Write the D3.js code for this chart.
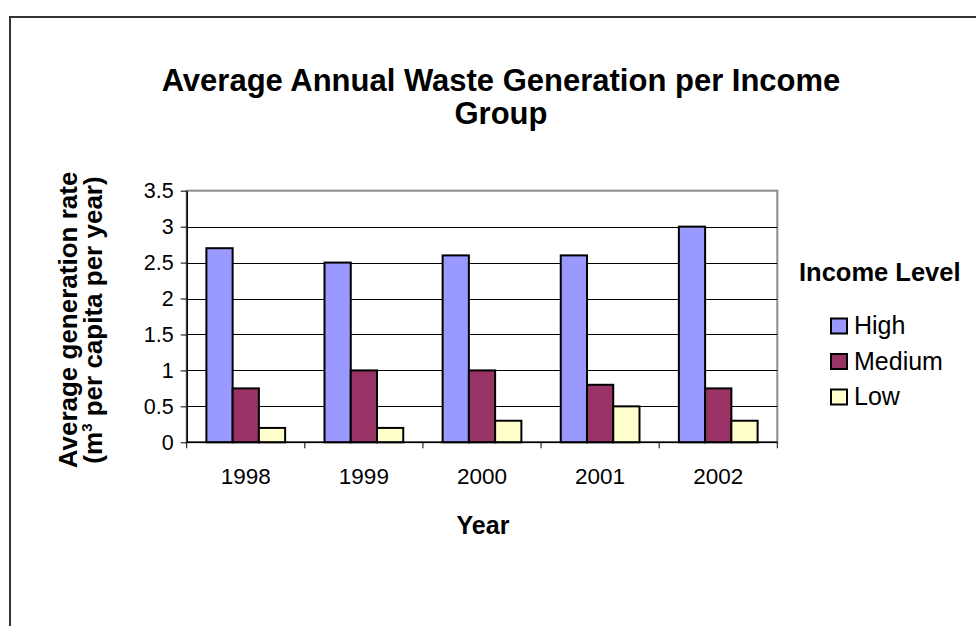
<!DOCTYPE html>
<html>
<head>
<meta charset="utf-8">
<script src="https://cdn.jsdelivr.net/npm/d3@7"></script>
<style>
  html, body { margin: 0; padding: 0; background: #fff; }
  svg { display: block; font-family: Arial, "Liberation Sans", sans-serif; }
</style>
</head>
<body>
<svg id="chart" width="976" height="626"></svg>
<script>
// Waste generation per income group, 1998-2002
const years = ["1998", "1999", "2000", "2001", "2002"];
const seriesNames = ["High", "Medium", "Low"];
const highValues = [2.7, 2.5, 2.6, 2.6, 3.0];
const mediumValues = [0.75, 1.0, 1.0, 0.8, 0.75];
const lowValues = [0.2, 0.2, 0.3, 0.5, 0.3];
const yTicks = [0, 0.5, 1, 1.5, 2, 2.5, 3, 3.5];
const seriesColors = ["#9999FF", "#993366", "#FFFFCC"];

const seriesValues = [highValues, mediumValues, lowValues];

const svg = d3.select("#chart");

// outer chart frame
svg.append("rect")
  .attr("x", 10).attr("y", 17)
  .attr("width", 1000).attr("height", 700)
  .attr("fill", "#fff")
  .attr("stroke", "#333").attr("stroke-width", 2);

const plot = { left: 186.7, right: 777.3, top: 190.7, bottom: 442.3 };

const x = d3.scaleBand().domain(years).range([plot.left, plot.right]).padding(0);
const xInner = d3.scaleBand().domain(seriesNames)
  .range([0, x.bandwidth()]).paddingInner(0).paddingOuter(0.75);
const y = d3.scaleLinear().domain([0, 3.5]).range([plot.bottom, plot.top]);

// plot area border (grey)
svg.append("rect")
  .attr("x", plot.left).attr("y", plot.top)
  .attr("width", plot.right - plot.left).attr("height", plot.bottom - plot.top)
  .attr("fill", "#fff").attr("stroke", "#8c8c8c").attr("stroke-width", 2);

// horizontal gridlines
svg.append("g")
  .selectAll("line")
  .data(yTicks.filter(t => t > 0 && t < 3.5))
  .join("line")
  .attr("x1", plot.left).attr("x2", plot.right)
  .attr("y1", d => Math.round(y(d)) + 0.5).attr("y2", d => Math.round(y(d)) + 0.5)
  .attr("stroke", "#000").attr("stroke-width", 1);

// bars
const groups = svg.append("g")
  .selectAll("g")
  .data(years)
  .join("g")
  .attr("transform", d => `translate(${x(d)},0)`);

groups.selectAll("rect")
  .data((d, i) => seriesNames.map((s, j) => ({ s, v: seriesValues[j][i], c: seriesColors[j] })))
  .join("rect")
  .attr("x", d => xInner(d.s))
  .attr("y", d => y(d.v))
  .attr("width", xInner.bandwidth())
  .attr("height", d => y(0) - y(d.v))
  .attr("fill", d => d.c)
  .attr("stroke", "#000").attr("stroke-width", 2);

// y axis
const yAxis = d3.axisLeft(y).tickValues(yTicks).tickSize(6).tickSizeOuter(0)
  .tickFormat(d => String(d));
const yG = svg.append("g").attr("transform", `translate(${plot.left},0)`).call(yAxis);
yG.select(".domain").attr("stroke", "#000").attr("stroke-width", 1.5);
yG.selectAll(".tick line").attr("stroke", "#000");
yG.selectAll(".tick text")
  .attr("x", -13)
  .attr("font-size", 21.5).attr("font-family", "Arial, 'Liberation Sans', sans-serif")
  .attr("fill", "#000");

// x axis with ticks at category boundaries
const xAxisG = svg.append("g").attr("transform", `translate(0,${plot.bottom})`);
xAxisG.append("line")
  .attr("x1", plot.left).attr("x2", plot.right)
  .attr("stroke", "#000").attr("stroke-width", 1.5);
const boundaries = years.map(d => x(d)).concat([x(years[years.length - 1]) + x.bandwidth()]);
xAxisG.selectAll("line.tk")
  .data(boundaries)
  .join("line")
  .attr("class", "tk")
  .attr("x1", d => d).attr("x2", d => d)
  .attr("y1", 0).attr("y2", 6)
  .attr("stroke", "#000");
xAxisG.selectAll("text")
  .data(years)
  .join("text")
  .attr("x", d => x(d) + x.bandwidth() / 2)
  .attr("y", 41.5)
  .attr("text-anchor", "middle")
  .attr("font-size", 22.5)
  .text(d => d);

// title
const title = svg.append("text")
  .attr("text-anchor", "middle")
  .attr("font-size", 31).attr("font-weight", "bold");
title.append("tspan").attr("x", 501).attr("y", 91)
  .text("Average Annual Waste Generation per Income");
title.append("tspan").attr("x", 501).attr("y", 124).text("Group");

// y axis title
const yTitle = svg.append("g").attr("transform", "translate(77,320) rotate(-90)");
yTitle.append("text")
  .attr("text-anchor", "middle")
  .attr("font-size", 26).attr("font-weight", "bold")
  .text("Average generation rate");
const yTitle2 = yTitle.append("text")
  .attr("y", 25)
  .attr("text-anchor", "middle")
  .attr("font-size", 26).attr("font-weight", "bold");
yTitle2.append("tspan").text("(m");
yTitle2.append("tspan").attr("font-size", 15).attr("dy", -10).text("3");
yTitle2.append("tspan").attr("dy", 10).text(" per capita per year)");

// x axis title
svg.append("text")
  .attr("x", x.range()[0] + (x.range()[1] - x.range()[0]) / 2 + 1)
  .attr("y", 534)
  .attr("text-anchor", "middle")
  .attr("font-size", 25).attr("font-weight", "bold")
  .text("Year");

// legend
const legend = svg.append("g");
legend.append("text")
  .attr("x", 799).attr("y", 280.7)
  .attr("font-size", 25.5).attr("font-weight", "bold")
  .text("Income Level");
const items = legend.selectAll("g.item")
  .data(seriesNames)
  .join("g")
  .attr("class", "item")
  .attr("transform", (d, i) => `translate(0,${318.5 + i * 35.5})`);
items.append("rect")
  .attr("x", 831).attr("y", 0)
  .attr("width", 16).attr("height", 15)
  .attr("fill", (d, i) => seriesColors[i])
  .attr("stroke", "#000").attr("stroke-width", 2);
items.append("text")
  .attr("x", 854).attr("y", 15.5)
  .attr("font-size", 25)
  .text(d => d);
</script>
</body>
</html>
